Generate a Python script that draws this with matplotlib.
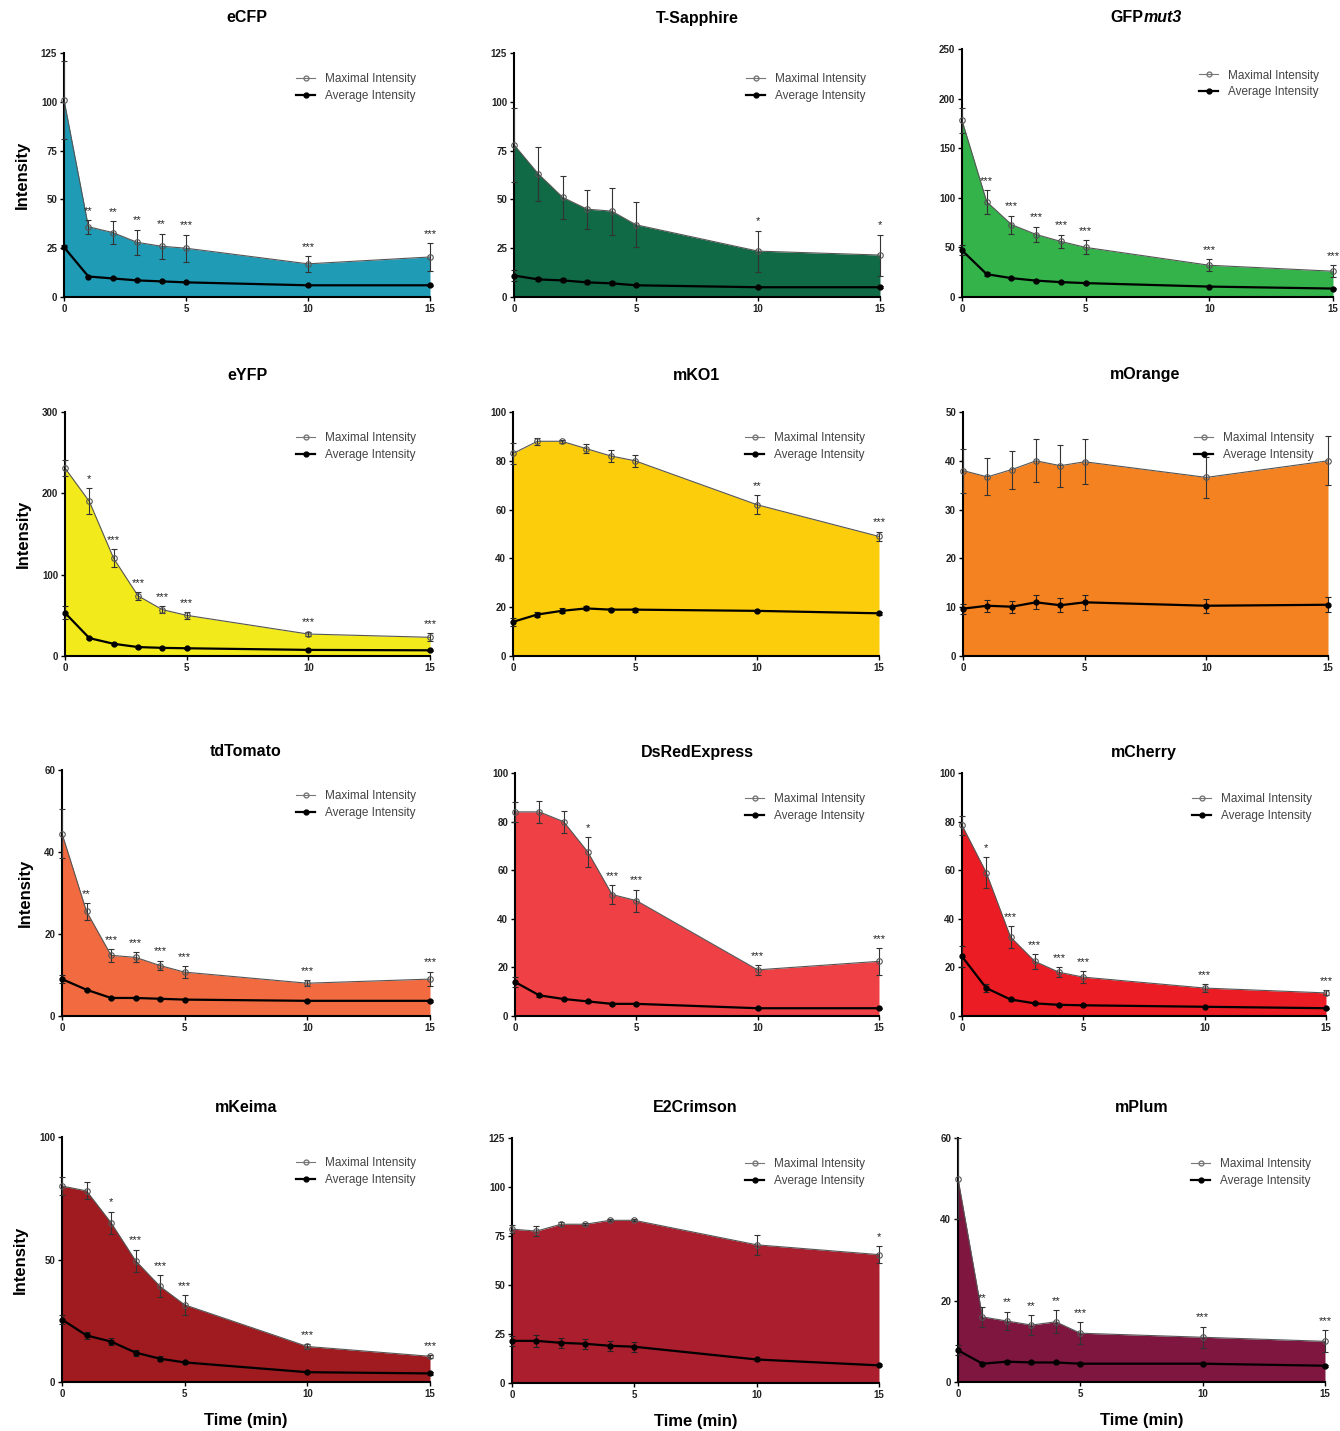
import matplotlib
matplotlib.use("Agg")
import matplotlib.pyplot as plt
from matplotlib.lines import Line2D

plt.rcParams['font.family'] = ['Liberation Sans', 'DejaVu Sans']

# time points (min)
time = [0, 1, 2, 3, 4, 5, 10, 15]

# eCFP
ecfp_max = [101, 36, 33, 28, 26, 25, 17, 20.5]
ecfp_err = [20, 3.5, 6, 6.5, 6.5, 7, 4, 7]
ecfp_avg = [25.5, 10.5, 9.5, 8.5, 8, 7.5, 6, 6]
ecfp_avg_err = [1, 0.5, 0.5, 0.5, 0.4, 0.4, 0.3, 0.3]
ecfp_stars = ["", "**", "**", "**", "**", "***", "***", "***"]

# T-Sapphire
tsap_max = [78, 63, 51, 45, 44, 37, 23.5, 21.5]
tsap_err = [19, 14, 11, 10, 12, 11.5, 10.5, 10.5]
tsap_avg = [11, 9, 8.5, 7.5, 7, 6, 5, 5]
tsap_avg_err = [3, 1, 1, 1, 1, 0.5, 0.5, 0.5]
tsap_stars = ["", "", "", "", "", "", "*", "*"]

# GFPmut3
gfp_max = [178, 96, 73, 63, 56, 50, 32, 26]
gfp_err = [13, 12, 9, 8, 7, 7, 6, 6]
gfp_avg = [47, 23, 19, 16.5, 15, 14, 10.5, 8.5]
gfp_avg_err = [5, 2, 1, 1, 1, 1, 0.5, 0.5]
gfp_stars = ["", "***", "***", "***", "***", "***", "***", "***"]

# eYFP
eyfp_max = [231, 190, 120, 74, 57, 50, 27, 23]
eyfp_err = [10, 16, 11, 5, 4, 4, 3, 5]
eyfp_avg = [53, 22, 15, 11, 10, 9.5, 7.5, 7]
eyfp_avg_err = [8, 1, 1, 1, 0.5, 0.5, 0.5, 0.5]
eyfp_stars = ["", "*", "***", "***", "***", "***", "***", "***"]

# mKO1
mko_max = [83, 88, 88, 85, 82, 80, 62, 49]
mko_err = [4.5, 1.5, 0.5, 2, 2.5, 2.5, 4, 2]
mko_avg = [14, 17, 18.5, 19.5, 19, 19, 18.5, 17.5]
mko_avg_err = [1.5, 1.2, 1, 0.8, 0.5, 0.8, 0.5, 0.5]
mko_stars = ["", "", "", "", "", "", "**", "***"]

# mOrange
morg_max = [38, 36.7, 38.2, 40, 39, 39.8, 36.6, 40]
morg_err = [4.5, 3.8, 3.9, 4.4, 4.3, 4.6, 4.2, 5]
morg_avg = [9.7, 10.3, 10.1, 11, 10.4, 11, 10.3, 10.5]
morg_avg_err = [1, 1.2, 1.2, 1.4, 1.4, 1.5, 1.4, 1.5]
morg_stars = ["", "", "", "", "", "", "", ""]

# tdTomato
tdt_max = [44.5, 25.5, 14.8, 14.3, 12.3, 10.7, 8, 9]
tdt_err = [6, 2, 1.6, 1.2, 1.2, 1.5, 0.8, 1.8]
tdt_avg = [9, 6.4, 4.4, 4.4, 4.2, 4, 3.7, 3.7]
tdt_avg_err = [1, 0.3, 0.3, 0.3, 0.2, 0.2, 0.2, 0.2]
tdt_stars = ["", "**", "***", "***", "***", "***", "***", "***"]

# DsRedExpress
dsr_max = [84, 84, 80, 67.5, 50, 47.5, 19, 22.5]
dsr_err = [4, 4.5, 4.5, 6, 4, 4.5, 2, 5.5]
dsr_avg = [14, 8.5, 7, 6, 5, 5, 3.2, 3.2]
dsr_avg_err = [2, 0.5, 0.5, 0.5, 0.3, 0.3, 0.2, 0.2]
dsr_stars = ["", "", "", "*", "***", "***", "***", "***"]

# mCherry
mch_max = [78.5, 59, 32.5, 22.5, 18, 16, 11.5, 9.5]
mch_err = [4, 6.5, 4.5, 3, 2, 2.5, 1.5, 1]
mch_avg = [24.5, 11.5, 6.8, 5.2, 4.6, 4.4, 3.8, 3.2]
mch_avg_err = [4.5, 1.5, 0.5, 0.3, 0.3, 0.3, 0.2, 0.2]
mch_stars = ["", "*", "***", "***", "***", "***", "***", "***"]

# mKeima
mkei_max = [80, 78, 65, 49.5, 39, 31.5, 14.5, 10.5]
mkei_err = [3.5, 3.5, 4.5, 4.5, 4.5, 4, 1, 0.5]
mkei_avg = [25.5, 19, 16.5, 12, 9.5, 8, 4, 3.5]
mkei_avg_err = [2, 1.3, 1.5, 1.2, 1, 0.5, 0.5, 0.5]
mkei_stars = ["", "", "*", "***", "***", "***", "***", "***"]

# E2Crimson
e2c_max = [78.5, 77.5, 81, 81, 83, 83, 70.5, 65.5]
e2c_err = [2, 2.5, 1, 0.5, 0.5, 0.5, 5, 4.5]
e2c_avg = [21.5, 21.5, 20.5, 20, 19, 18.5, 12, 9]
e2c_avg_err = [2.5, 3, 2.5, 2.5, 2.5, 2.5, 1, 0.5]
e2c_stars = ["", "", "", "", "", "", "", "*"]

# mPlum
mplum_max = [50, 16, 15, 14, 14.8, 12, 11, 10]
mplum_err = [10, 2.5, 2.3, 2.4, 2.8, 2.7, 2.6, 2.7]
mplum_avg = [7.8, 4.5, 5, 4.8, 4.8, 4.5, 4.5, 4]
mplum_avg_err = [1.2, 0.4, 0.3, 0.3, 0.3, 0.3, 0.3, 0.3]
mplum_stars = ["", "**", "**", "**", "**", "***", "***", "***"]

names = ["eCFP", "T-Sapphire", "GFPmut3", "eYFP", "mKO1", "mOrange",
         "tdTomato", "DsRedExpress", "mCherry", "mKeima", "E2Crimson", "mPlum"]
colors = ["#1f9bb6", "#0f6a45", "#33b34a", "#f2ea1a", "#fccd0a", "#f58220",
          "#f26a40", "#ee4045", "#ec1c24", "#9f1b1f", "#ab1e2d", "#7e1640"]
ymax = [125, 125, 250, 300, 100, 50, 60, 100, 100, 100, 125, 60]
ystep = [25, 25, 50, 100, 20, 10, 20, 20, 20, 50, 25, 20]

series = [
    (ecfp_max, ecfp_err, ecfp_avg, ecfp_avg_err, ecfp_stars),
    (tsap_max, tsap_err, tsap_avg, tsap_avg_err, tsap_stars),
    (gfp_max, gfp_err, gfp_avg, gfp_avg_err, gfp_stars),
    (eyfp_max, eyfp_err, eyfp_avg, eyfp_avg_err, eyfp_stars),
    (mko_max, mko_err, mko_avg, mko_avg_err, mko_stars),
    (morg_max, morg_err, morg_avg, morg_avg_err, morg_stars),
    (tdt_max, tdt_err, tdt_avg, tdt_avg_err, tdt_stars),
    (dsr_max, dsr_err, dsr_avg, dsr_avg_err, dsr_stars),
    (mch_max, mch_err, mch_avg, mch_avg_err, mch_stars),
    (mkei_max, mkei_err, mkei_avg, mkei_avg_err, mkei_stars),
    (e2c_max, e2c_err, e2c_avg, e2c_avg_err, e2c_stars),
    (mplum_max, mplum_err, mplum_avg, mplum_avg_err, mplum_stars),
]

W, H = 1340, 1431
fig = plt.figure(figsize=(W / 100, H / 100), dpi=100)

# axes boxes in pixels: left, right, bottom, top
boxes = [(64, 430, 297, 53), (514, 880, 297, 53), (962, 1333, 297, 49),
         (65, 430, 656, 412), (513, 879, 656, 412), (963, 1328, 656, 412),
         (62, 430, 1016, 770), (515, 879, 1016, 773), (962, 1326, 1016, 773),
         (62, 430, 1382, 1137), (512, 879, 1383, 1138), (958, 1325, 1382, 1138)]
title_y = [18, 18, 18, 375, 375, 375, 752, 752, 752, 1108, 1108, 1108]


def unclip(container):
    for art in container.get_children():
        art.set_clip_on(False)


for i in range(12):
    x0, x1, yb, yt = boxes[i]
    ax = fig.add_axes([x0 / W, 1 - yb / H, (x1 - x0) / W, (yb - yt) / H])
    mx, err, avg, avg_err, stars = series[i]

    ax.fill_between(time, 0, mx, color=colors[i], lw=0, zorder=1)
    ax.plot(time, mx, color="#555555", lw=0.8, zorder=2, clip_on=False)
    eb = ax.errorbar(time, mx, yerr=err, fmt="o", ms=4, mfc="none", mec="#555555",
                     mew=0.8, ecolor="#333333", elinewidth=0.8, capsize=2, capthick=0.8, zorder=3)
    unclip(eb)
    eb = ax.errorbar(time, avg, yerr=avg_err, fmt="-o", color="black", lw=1.6, ms=3.5,
                     ecolor="#222222", elinewidth=0.8, capsize=2, capthick=0.8, zorder=4)
    unclip(eb)

    for t, m, e, s in zip(time, mx, err, stars):
        if s:
            ax.annotate(s, (t, m + e), xytext=(0, 3), textcoords="offset points",
                        ha="center", va="bottom", fontsize=8, color="#222222")

    ax.set_xlim(0, 15)
    ax.set_ylim(0, ymax[i])
    ax.set_xticks([0, 5, 10, 15])
    ax.set_yticks(range(0, ymax[i] + 1, ystep[i]))
    ax.spines["top"].set_visible(False)
    ax.spines["right"].set_visible(False)
    ax.spines["left"].set_linewidth(1.5)
    ax.spines["bottom"].set_linewidth(1.5)
    ax.tick_params(direction="out", length=3, width=1, labelsize=7, pad=2)
    for lab in ax.get_xticklabels() + ax.get_yticklabels():
        lab.set_fontweight("bold")
        lab.set_color("#222222")

    handles = [Line2D([], [], color="#777777", lw=0.8, marker="o", ms=3.5, mfc="none", mec="#777777"),
               Line2D([], [], color="black", lw=1.6, marker="o", ms=3.5)]
    leg = ax.legend(handles, ["Maximal Intensity", "Average Intensity"], loc="upper right",
                    bbox_to_anchor=(0.99, 0.96), frameon=False, fontsize=8.5, handlelength=1.6,
                    handletextpad=0.8, labelspacing=0.4)
    for txt in leg.get_texts():
        txt.set_color("#444444")

    if i % 3 == 0:
        ax.set_ylabel("Intensity", fontsize=12, fontweight="bold", labelpad=8)
    if i >= 9:
        ax.set_xlabel("Time (min)", fontsize=12, fontweight="bold", labelpad=10)

    cx = (x0 + x1) / 2 / W
    ty = 1 - title_y[i] / H
    if names[i] == "GFPmut3":
        fig.text(cx - 0.003, ty, "GFP", ha="right", va="center", fontsize=11.5, fontweight="bold")
        fig.text(cx - 0.003, ty, "mut3", ha="left", va="center", fontsize=11.5,
                 fontweight="bold", fontstyle="italic")
    else:
        fig.text(cx, ty, names[i], ha="center", va="center", fontsize=11.5, fontweight="bold")

fig.savefig("out.png", dpi=100)
